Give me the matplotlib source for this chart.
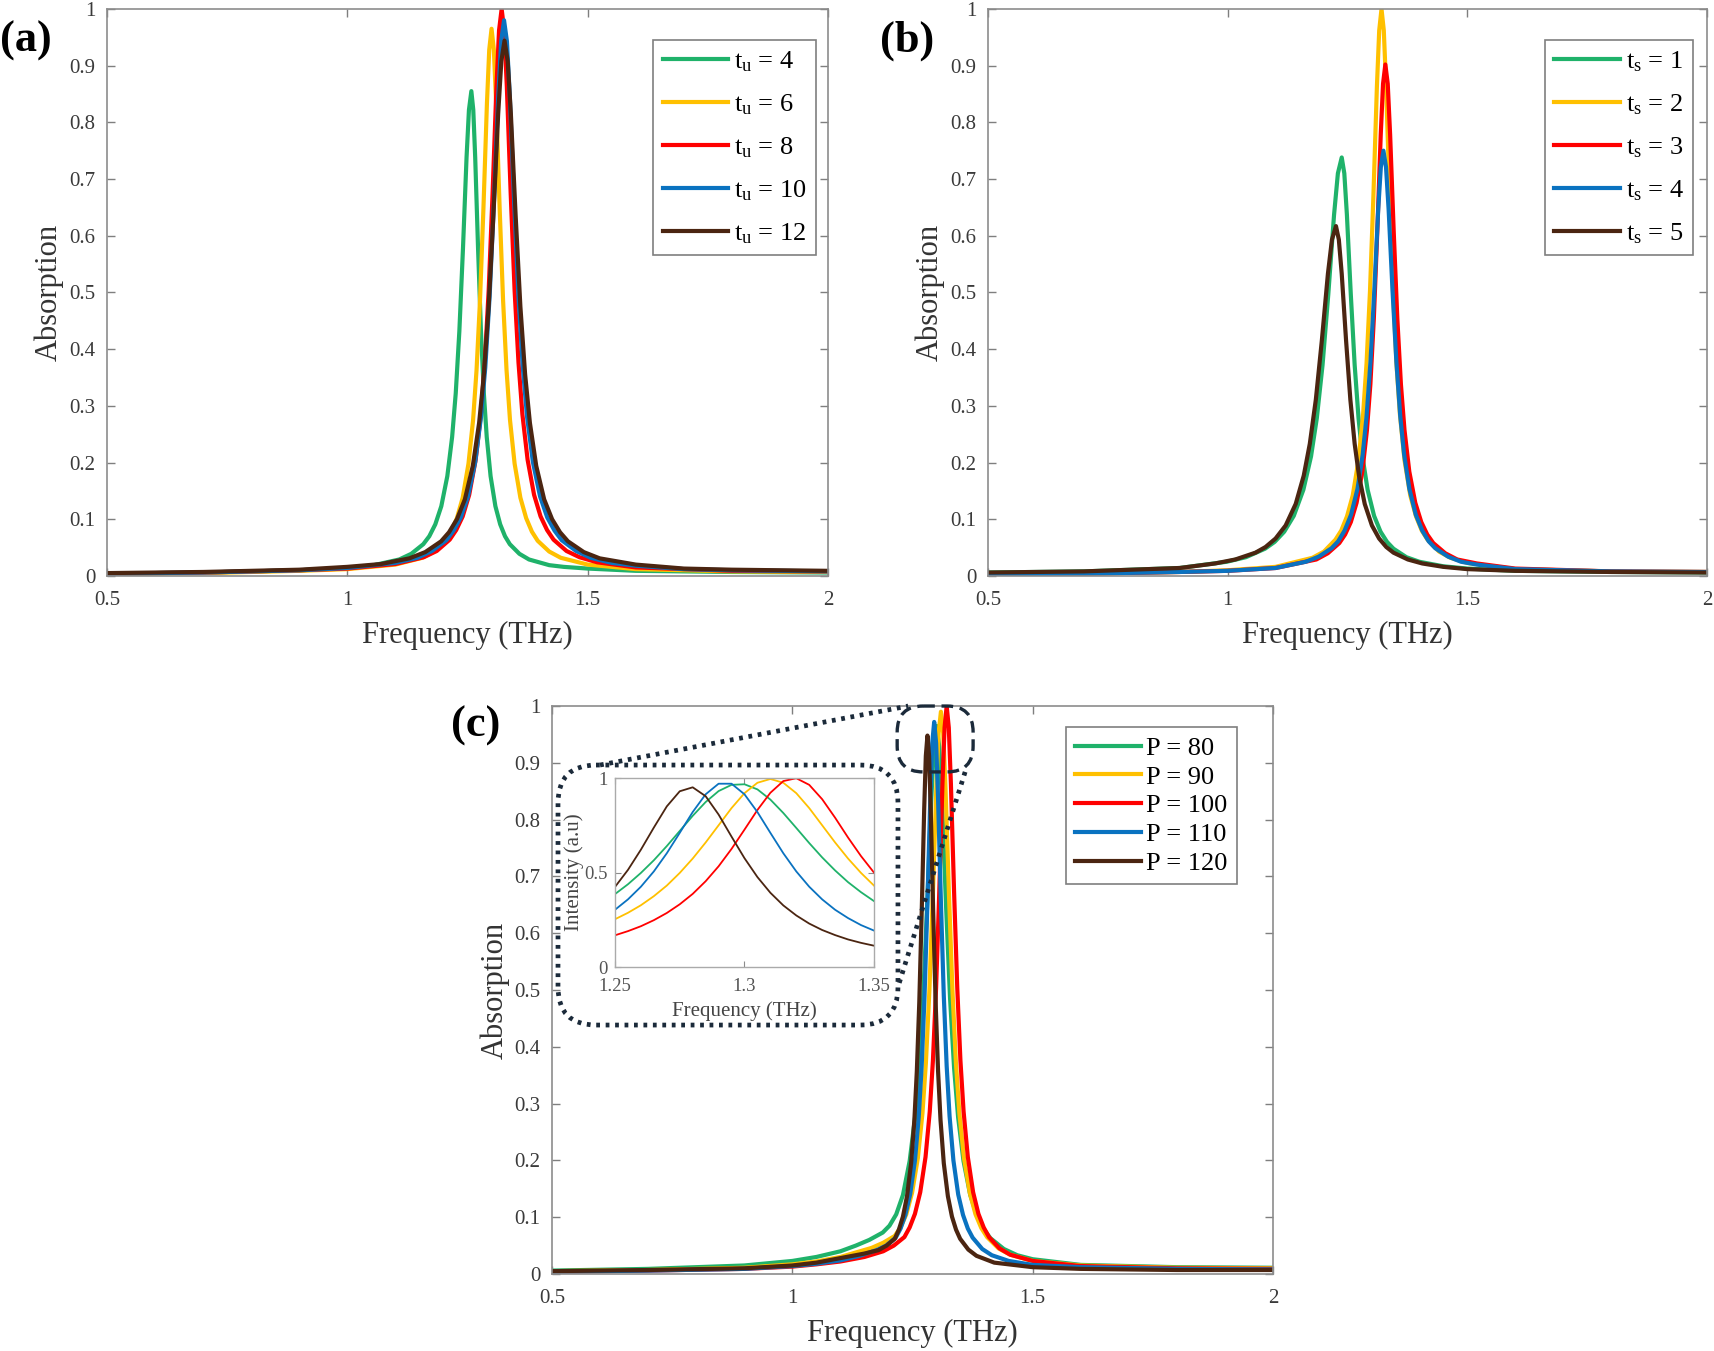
import matplotlib
matplotlib.use("Agg")
import matplotlib.pyplot as plt
import numpy as np
from matplotlib.patches import FancyBboxPatch
from matplotlib.ticker import FuncFormatter

plt.rcParams['font.family'] = ['Liberation Serif', 'DejaVu Serif']
plt.rcParams['mathtext.fontset'] = 'custom'
plt.rcParams['mathtext.rm'] = 'Liberation Serif'
plt.rcParams['mathtext.it'] = 'Liberation Serif:italic'

W, H = 1715, 1351
colors = ['#1fb26a', '#ffc000', '#ff0000', '#0a72c0', '#4b2511']

# ---- panel (a): thickness t_u ----
tu_labels = [r'$\mathregular{t_u}$ = 4', r'$\mathregular{t_u}$ = 6', r'$\mathregular{t_u}$ = 8',
             r'$\mathregular{t_u}$ = 10', r'$\mathregular{t_u}$ = 12']
tu4_f = [0.5, 0.7, 0.9, 1.0, 1.05, 1.108, 1.133, 1.158, 1.1705, 1.183, 1.1955, 1.208, 1.218, 1.2255,
         1.233, 1.2405, 1.248, 1.253, 1.258, 1.262, 1.266, 1.272, 1.278, 1.284, 1.290, 1.298, 1.308,
         1.318, 1.328, 1.338, 1.358, 1.378, 1.42, 1.45, 1.5, 1.6, 1.8, 2.0]
tu4_a = [0.004, 0.006, 0.010, 0.014, 0.018, 0.029, 0.039, 0.056, 0.070, 0.091, 0.123, 0.176, 0.245, 0.322,
         0.431, 0.576, 0.738, 0.822, 0.855, 0.822, 0.738, 0.576, 0.431, 0.322, 0.245, 0.176, 0.123,
         0.091, 0.070, 0.056, 0.039, 0.029, 0.019, 0.016, 0.013, 0.009, 0.007, 0.006]
tu6_f = [0.5, 0.7, 0.9, 1.0, 1.1, 1.156, 1.180, 1.204, 1.216, 1.228, 1.240, 1.252, 1.2616, 1.2688,
         1.276, 1.2832, 1.2904, 1.2952, 1.300, 1.3048, 1.3096, 1.3168, 1.324, 1.3312, 1.3384, 1.348,
         1.360, 1.372, 1.384, 1.396, 1.420, 1.444, 1.5, 1.6, 1.8, 2.0]
tu6_a = [0.004, 0.005, 0.009, 0.012, 0.020, 0.032, 0.043, 0.062, 0.078, 0.102, 0.138, 0.198, 0.275, 0.363,
         0.486, 0.650, 0.833, 0.928, 0.965, 0.928, 0.833, 0.650, 0.486, 0.363, 0.275, 0.198,
         0.138, 0.102, 0.078, 0.062, 0.043, 0.032, 0.020, 0.012, 0.008, 0.007]
tu8_f = [0.5, 0.7, 0.9, 1.0, 1.1, 1.159, 1.186, 1.213, 1.2265, 1.240, 1.2535, 1.267, 1.2778, 1.2859,
         1.294, 1.3021, 1.3102, 1.3156, 1.321, 1.3264, 1.3318, 1.3399, 1.348, 1.3561, 1.3642, 1.375,
         1.3885, 1.402, 1.4155, 1.429, 1.456, 1.483, 1.52, 1.6, 1.8, 2.0]
tu8_a = [0.004, 0.006, 0.010, 0.013, 0.021, 0.033, 0.044, 0.064, 0.081, 0.105, 0.143, 0.205, 0.285, 0.376,
         0.503, 0.673, 0.863, 0.962, 1.000, 0.962, 0.863, 0.673, 0.503, 0.376, 0.285, 0.205,
         0.143, 0.105, 0.081, 0.064, 0.044, 0.033, 0.024, 0.015, 0.009, 0.008]
tu10_f = [0.5, 0.7, 0.9, 1.0, 1.1, 1.146, 1.176, 1.206, 1.221, 1.236, 1.251, 1.266, 1.278, 1.287,
          1.296, 1.305, 1.314, 1.320, 1.326, 1.332, 1.338, 1.347, 1.356, 1.365, 1.374, 1.386,
          1.401, 1.416, 1.431, 1.446, 1.476, 1.506, 1.55, 1.6, 1.7, 1.8, 2.0]
tu10_a = [0.004, 0.006, 0.010, 0.014, 0.023, 0.032, 0.044, 0.063, 0.080, 0.103, 0.140, 0.201, 0.280, 0.368,
          0.493, 0.660, 0.846, 0.943, 0.980, 0.943, 0.846, 0.660, 0.493, 0.368, 0.280, 0.201,
          0.140, 0.103, 0.080, 0.063, 0.044, 0.032, 0.023, 0.018, 0.012, 0.010, 0.008]
tu12_f = [0.5, 0.7, 0.9, 1.0, 1.07, 1.129, 1.162, 1.195, 1.2115, 1.228, 1.2445, 1.261, 1.2742, 1.2841,
          1.294, 1.3039, 1.3138, 1.3204, 1.327, 1.3336, 1.3402, 1.3501, 1.360, 1.3699, 1.3798, 1.393,
          1.4095, 1.426, 1.4425, 1.459, 1.492, 1.525, 1.6, 1.7, 1.8, 2.0]
tu12_a = [0.005, 0.007, 0.011, 0.016, 0.021, 0.031, 0.042, 0.061, 0.077, 0.100, 0.135, 0.194, 0.270, 0.355,
          0.475, 0.636, 0.815, 0.908, 0.944, 0.908, 0.815, 0.636, 0.475, 0.355, 0.270, 0.194,
          0.135, 0.100, 0.077, 0.061, 0.042, 0.031, 0.020, 0.013, 0.011, 0.009]

# ---- panel (b): thickness t_s ----
ts_labels = [r'$\mathregular{t_s}$ = 1', r'$\mathregular{t_s}$ = 2', r'$\mathregular{t_s}$ = 3',
             r'$\mathregular{t_s}$ = 4', r'$\mathregular{t_s}$ = 5']
ts1_f = [0.5, 0.7, 0.9, 0.998, 1.038, 1.078, 1.098, 1.118, 1.138, 1.158, 1.174, 1.186, 1.198, 1.210,
         1.222, 1.230, 1.238, 1.2434, 1.2488, 1.2569, 1.265, 1.2731, 1.2812, 1.292, 1.3055, 1.319,
         1.3325, 1.346, 1.373, 1.400, 1.45, 1.5, 1.6, 1.8, 2.0]
ts1_a = [0.006, 0.008, 0.014, 0.025, 0.033, 0.048, 0.060, 0.078, 0.106, 0.152, 0.211, 0.278, 0.372, 0.497,
         0.637, 0.710, 0.738, 0.710, 0.637, 0.497, 0.372, 0.278, 0.211, 0.152, 0.106, 0.078,
         0.060, 0.048, 0.033, 0.025, 0.017, 0.013, 0.009, 0.007, 0.006]
ts2_f = [0.5, 0.7, 0.9, 1.0, 1.1, 1.177, 1.201, 1.225, 1.237, 1.249, 1.261, 1.273, 1.2826, 1.2898,
         1.297, 1.3042, 1.3114, 1.3162, 1.321, 1.3258, 1.3306, 1.3378, 1.345, 1.3522, 1.3594, 1.369,
         1.381, 1.393, 1.405, 1.417, 1.441, 1.465, 1.5, 1.6, 1.8, 2.0]
ts2_a = [0.003, 0.004, 0.007, 0.010, 0.016, 0.032, 0.043, 0.064, 0.080, 0.105, 0.142, 0.204, 0.285, 0.375,
         0.503, 0.673, 0.863, 0.962, 1.000, 0.962, 0.863, 0.673, 0.503, 0.375, 0.285, 0.204,
         0.142, 0.105, 0.080, 0.064, 0.043, 0.032, 0.023, 0.012, 0.008, 0.007]
ts3_f = [0.5, 0.7, 0.9, 1.0, 1.1, 1.185, 1.209, 1.233, 1.245, 1.257, 1.269, 1.281, 1.2906, 1.2978,
         1.305, 1.3122, 1.3194, 1.3242, 1.329, 1.334, 1.339, 1.3465, 1.354, 1.3615, 1.369, 1.379,
         1.3915, 1.404, 1.4165, 1.429, 1.454, 1.479, 1.52, 1.6, 1.8, 2.0]
ts3_a = [0.003, 0.004, 0.007, 0.009, 0.014, 0.029, 0.040, 0.058, 0.073, 0.095, 0.129, 0.184, 0.257, 0.338,
         0.454, 0.607, 0.778, 0.868, 0.902, 0.868, 0.778, 0.607, 0.454, 0.338, 0.257, 0.184,
         0.129, 0.095, 0.073, 0.058, 0.040, 0.029, 0.022, 0.013, 0.008, 0.007]
ts4_f = [0.5, 0.7, 0.9, 1.0, 1.1, 1.163, 1.190, 1.217, 1.2305, 1.244, 1.2575, 1.271, 1.2818, 1.2899,
         1.298, 1.3061, 1.3142, 1.3196, 1.325, 1.3304, 1.3358, 1.3439, 1.352, 1.3601, 1.3682, 1.379,
         1.3925, 1.406, 1.4195, 1.433, 1.460, 1.487, 1.52, 1.6, 1.8, 2.0]
ts4_a = [0.003, 0.004, 0.007, 0.009, 0.014, 0.025, 0.034, 0.049, 0.061, 0.080, 0.108, 0.154, 0.214, 0.282,
         0.378, 0.505, 0.647, 0.721, 0.750, 0.721, 0.647, 0.505, 0.378, 0.282, 0.214, 0.154,
         0.108, 0.080, 0.061, 0.049, 0.034, 0.025, 0.020, 0.012, 0.008, 0.007]
ts5_f = [0.5, 0.7, 0.9, 0.974, 1.016, 1.058, 1.079, 1.100, 1.121, 1.142, 1.1588, 1.1714, 1.184, 1.1966,
         1.2092, 1.2176, 1.226, 1.232, 1.238, 1.247, 1.256, 1.265, 1.274, 1.286, 1.301, 1.316,
         1.331, 1.346, 1.376, 1.406, 1.45, 1.5, 1.6, 1.8, 2.0]
ts5_a = [0.006, 0.008, 0.014, 0.022, 0.029, 0.041, 0.051, 0.066, 0.089, 0.127, 0.177, 0.233, 0.311, 0.416,
         0.533, 0.593, 0.617, 0.593, 0.533, 0.416, 0.311, 0.233, 0.177, 0.127, 0.089, 0.066,
         0.051, 0.041, 0.029, 0.022, 0.016, 0.012, 0.009, 0.007, 0.006]

# ---- panel (c): period P ----
p_labels = ['P = 80', 'P = 90', 'P = 100', 'P = 110', 'P = 120']
p80_f = [0.5, 0.7, 0.9, 1.0, 1.05, 1.1, 1.132, 1.160, 1.188, 1.202, 1.216, 1.230, 1.244, 1.2552, 1.2636,
         1.272, 1.2804, 1.2888, 1.2944, 1.300, 1.3056, 1.3112, 1.3196, 1.328, 1.3364, 1.3448, 1.356,
         1.370, 1.384, 1.398, 1.412, 1.440, 1.468, 1.5, 1.6, 1.8, 2.0]
p80_a = [0.006, 0.009, 0.015, 0.023, 0.030, 0.040, 0.050, 0.060, 0.073, 0.085, 0.105, 0.139, 0.199, 0.276, 0.363,
         0.486, 0.650, 0.833, 0.928, 0.965, 0.928, 0.833, 0.650, 0.486, 0.363, 0.276, 0.199,
         0.139, 0.103, 0.079, 0.063, 0.044, 0.033, 0.026, 0.016, 0.012, 0.011]
p90_f = [0.5, 0.7, 0.9, 1.0, 1.05, 1.1, 1.165, 1.189, 1.213, 1.225, 1.237, 1.249, 1.261, 1.2706, 1.2778,
         1.285, 1.2922, 1.2994, 1.3042, 1.309, 1.3138, 1.3186, 1.3258, 1.333, 1.3402, 1.3474, 1.357,
         1.369, 1.381, 1.393, 1.405, 1.429, 1.453, 1.5, 1.6, 1.8, 2.0]
p90_a = [0.005, 0.007, 0.011, 0.017, 0.022, 0.030, 0.046, 0.055, 0.067, 0.082, 0.105, 0.143, 0.204, 0.283, 0.372,
         0.499, 0.667, 0.854, 0.952, 0.990, 0.952, 0.854, 0.667, 0.499, 0.372, 0.283, 0.204,
         0.143, 0.105, 0.081, 0.065, 0.045, 0.034, 0.023, 0.015, 0.011, 0.010]
p100_f = [0.5, 0.7, 0.9, 1.0, 1.05, 1.1, 1.15, 1.189, 1.211, 1.233, 1.244, 1.255, 1.266, 1.277, 1.2858, 1.2924,
          1.299, 1.3056, 1.3122, 1.3166, 1.321, 1.3254, 1.3298, 1.3364, 1.343, 1.3496, 1.3562, 1.365,
          1.376, 1.387, 1.398, 1.409, 1.431, 1.453, 1.5, 1.6, 1.8, 2.0]
p100_a = [0.004, 0.006, 0.009, 0.013, 0.017, 0.022, 0.030, 0.040, 0.050, 0.065, 0.082, 0.106, 0.144, 0.206, 0.286, 0.376,
          0.504, 0.673, 0.863, 0.962, 1.000, 0.962, 0.863, 0.673, 0.504, 0.376, 0.286, 0.206,
          0.144, 0.106, 0.082, 0.065, 0.045, 0.034, 0.023, 0.014, 0.010, 0.009]
p110_f = [0.5, 0.7, 0.9, 1.0, 1.05, 1.1, 1.14, 1.175, 1.195, 1.215, 1.225, 1.235, 1.245, 1.255, 1.263, 1.269,
          1.275, 1.281, 1.287, 1.291, 1.295, 1.299, 1.303, 1.309, 1.315, 1.321, 1.327, 1.335,
          1.345, 1.355, 1.365, 1.375, 1.395, 1.415, 1.45, 1.5, 1.6, 1.8, 2.0]
p110_a = [0.004, 0.006, 0.009, 0.014, 0.018, 0.024, 0.032, 0.042, 0.050, 0.064, 0.080, 0.104, 0.140, 0.200, 0.278, 0.366,
          0.490, 0.655, 0.839, 0.935, 0.972, 0.935, 0.839, 0.655, 0.490, 0.366, 0.278, 0.200,
          0.140, 0.104, 0.080, 0.064, 0.044, 0.033, 0.023, 0.016, 0.012, 0.009, 0.008]
p120_f = [0.5, 0.7, 0.9, 1.0, 1.05, 1.1, 1.15, 1.179, 1.196, 1.213, 1.2215, 1.230, 1.2385, 1.247, 1.2538, 1.2589,
          1.264, 1.2691, 1.2742, 1.2776, 1.281, 1.2844, 1.2878, 1.2929, 1.298, 1.3031, 1.3082, 1.315,
          1.3235, 1.332, 1.3405, 1.349, 1.366, 1.383, 1.42, 1.5, 1.6, 1.8, 2.0]
p120_a = [0.005, 0.007, 0.010, 0.015, 0.020, 0.028, 0.036, 0.042, 0.050, 0.062, 0.078, 0.101, 0.137, 0.195, 0.271, 0.357,
          0.478, 0.639, 0.818, 0.912, 0.948, 0.912, 0.818, 0.639, 0.478, 0.357, 0.271, 0.195,
          0.137, 0.101, 0.078, 0.062, 0.043, 0.032, 0.020, 0.012, 0.009, 0.007, 0.007]

# ---- inset of (c): normalised intensity ----
inset_f = [1.250, 1.255, 1.260, 1.265, 1.270, 1.275, 1.280, 1.285, 1.290, 1.295, 1.300,
           1.305, 1.310, 1.315, 1.320, 1.325, 1.330, 1.335, 1.340, 1.345, 1.350]
inset_p80 = [0.386, 0.438, 0.498, 0.565, 0.640, 0.720, 0.800, 0.873, 0.931, 0.964, 0.967,
             0.940, 0.886, 0.815, 0.736, 0.656, 0.580, 0.511, 0.449, 0.396, 0.349]
inset_p90 = [0.253, 0.287, 0.327, 0.375, 0.431, 0.498, 0.574, 0.659, 0.750, 0.841, 0.920,
             0.975, 0.995, 0.975, 0.920, 0.841, 0.750, 0.659, 0.574, 0.498, 0.431]
inset_p100 = [0.168, 0.190, 0.216, 0.248, 0.286, 0.332, 0.387, 0.454, 0.533, 0.625, 0.727,
              0.831, 0.922, 0.984, 0.999, 0.964, 0.888, 0.790, 0.685, 0.587, 0.500]
inset_p110 = [0.303, 0.358, 0.425, 0.506, 0.602, 0.710, 0.820, 0.914, 0.970, 0.970, 0.914,
              0.820, 0.710, 0.602, 0.506, 0.425, 0.358, 0.303, 0.259, 0.222, 0.193]
inset_p120 = [0.424, 0.514, 0.621, 0.738, 0.850, 0.930, 0.951, 0.904, 0.807, 0.690, 0.576,
              0.476, 0.393, 0.326, 0.273, 0.230, 0.196, 0.169, 0.146, 0.128, 0.113]

fmt = FuncFormatter(lambda v, p: f'{v:g}')


def style(ax):
    ax.set_xlim(0.5, 2)
    ax.set_ylim(0, 1)
    ax.set_xticks([0.5, 1, 1.5, 2])
    ax.set_yticks(np.arange(0, 1.01, 0.1))
    ax.xaxis.set_major_formatter(fmt)
    ax.yaxis.set_major_formatter(fmt)
    ax.tick_params(direction='in', top=True, right=True, length=5.5, width=1,
                   color='#7f7f7f', labelcolor='#3a3a3a', labelsize=15)
    ax.tick_params(axis='x', pad=11)
    ax.tick_params(axis='y', pad=8.5)
    for s in ax.spines.values():
        s.set_color('#8c8c8c')
        s.set_linewidth(1.2)
    ax.set_xlabel('Frequency (THz)', fontsize=22, color='#333333', labelpad=7.5)
    ax.set_ylabel('Absorption', fontsize=22, color='#333333', labelpad=3.5)


def add_legend(ax, anchor, spacing):
    leg = ax.legend(loc='upper right', bbox_to_anchor=anchor, fontsize=19, fancybox=False,
                    edgecolor='#7f7f7f', framealpha=1, handlelength=2.5, handletextpad=0.2,
                    labelspacing=spacing, borderpad=0.35, borderaxespad=0)
    leg.get_frame().set_linewidth(1.2)


fig = plt.figure(figsize=(W / 100, H / 100), dpi=100)

ax_a = fig.add_axes([0.0624, 0.5737, 0.4204, 0.4197])
ax_b = fig.add_axes([0.5761, 0.5737, 0.4192, 0.4197])
ax_c = fig.add_axes([0.3219, 0.0570, 0.4204, 0.4204])

for f, a, c, lab in zip([tu4_f, tu6_f, tu8_f, tu10_f, tu12_f], [tu4_a, tu6_a, tu8_a, tu10_a, tu12_a],
                        colors, tu_labels):
    ax_a.plot(f, a, color=c, lw=3.0, label=lab, solid_joinstyle='round')
for f, a, c, lab in zip([ts1_f, ts2_f, ts3_f, ts4_f, ts5_f], [ts1_a, ts2_a, ts3_a, ts4_a, ts5_a],
                        colors, ts_labels):
    ax_b.plot(f, a, color=c, lw=3.0, label=lab, solid_joinstyle='round')
for f, a, c, lab in zip([p80_f, p90_f, p100_f, p110_f, p120_f], [p80_a, p90_a, p100_a, p110_a, p120_a],
                        colors, p_labels):
    ax_c.plot(f, a, color=c, lw=3.0, label=lab, solid_joinstyle='round')

for ax in (ax_a, ax_b, ax_c):
    style(ax)
add_legend(ax_a, (0.983, 0.945), 0.7)
add_legend(ax_b, (0.9805, 0.945), 0.7)
add_legend(ax_c, (0.950, 0.963), 0.2)

# inset
ax_in = fig.add_axes([0.3586, 0.2842, 0.1510, 0.1399])
for a, c in zip([inset_p80, inset_p90, inset_p100, inset_p110, inset_p120], colors):
    ax_in.plot(inset_f, a, color=c, lw=1.3)
ax_in.set_xlim(1.25, 1.35)
ax_in.set_ylim(0, 1)
ax_in.set_xticks([1.25, 1.3, 1.35])
ax_in.set_yticks([0, 0.5, 1])
ax_in.xaxis.set_major_formatter(fmt)
ax_in.yaxis.set_major_formatter(fmt)
ax_in.tick_params(direction='in', top=True, right=True, length=4, width=0.8,
                  color='#8c8c8c', labelcolor='#555555', labelsize=13.5)
ax_in.tick_params(axis='x', pad=8)
ax_in.tick_params(axis='y', pad=5)
for s in ax_in.spines.values():
    s.set_color('#aaaaaa')
    s.set_linewidth(1)
ax_in.set_xlabel('Frequency (THz)', fontsize=15, color='#444444', labelpad=4.5)
ax_in.set_ylabel('Intensity (a.u)', fontsize=15, color='#444444', labelpad=0.5)

# overlay in pixel units for the zoom markers
ov = fig.add_axes([0, 0, 1, 1], zorder=10)
ov.set_xlim(0, W)
ov.set_ylim(H, 0)
ov.axis('off')
ov.patch.set_alpha(0)

bi = ax_in.get_position()
box_l, box_r = bi.x0 * W - 57, bi.x1 * W + 24
box_t, box_b = (1 - bi.y1) * H - 13, (1 - bi.y0) * H + 58
dot = (0, (0.8, 1.2))
ov.add_patch(FancyBboxPatch((box_l, box_t), box_r - box_l, box_b - box_t,
                            boxstyle='round,pad=0,rounding_size=38', fill=False,
                            ec='#1b2a3a', lw=3.4, ls=dot))

bc = ax_c.get_position()


def c_px(x, y):
    return ((bc.x0 + (x - 0.5) / 1.5 * bc.width) * W, (1 - (bc.y0 + y * bc.height)) * H)


zl, zt = c_px(1.218, 1.0)
zr, zb = c_px(1.376, 0.884)
ov.add_patch(FancyBboxPatch((zl, zt), zr - zl, zb - zt,
                            boxstyle='round,pad=0,rounding_size=26', fill=False,
                            ec='#1b2a3a', lw=2.4, ls=(0, (3.5, 2))))
ov.plot([box_l + 42, zl + 11], [box_t, zt], color='#1b2a3a', lw=3.4, ls=dot)
ov.plot([zr - 8, box_r], [zb, box_b - 38], color='#1b2a3a', lw=3.4, ls=dot)

# panel labels
fig.text(0, 1 - 41 / H, '(a)', fontsize=32, fontweight='bold', va='center', ha='left')
fig.text(880 / W, 1 - 41 / H, '(b)', fontsize=32, fontweight='bold', va='center', ha='left')
fig.text(451 / W, 1 - 726 / H, '(c)', fontsize=32, fontweight='bold', va='center', ha='left')

fig.savefig('out.png', dpi=100)
